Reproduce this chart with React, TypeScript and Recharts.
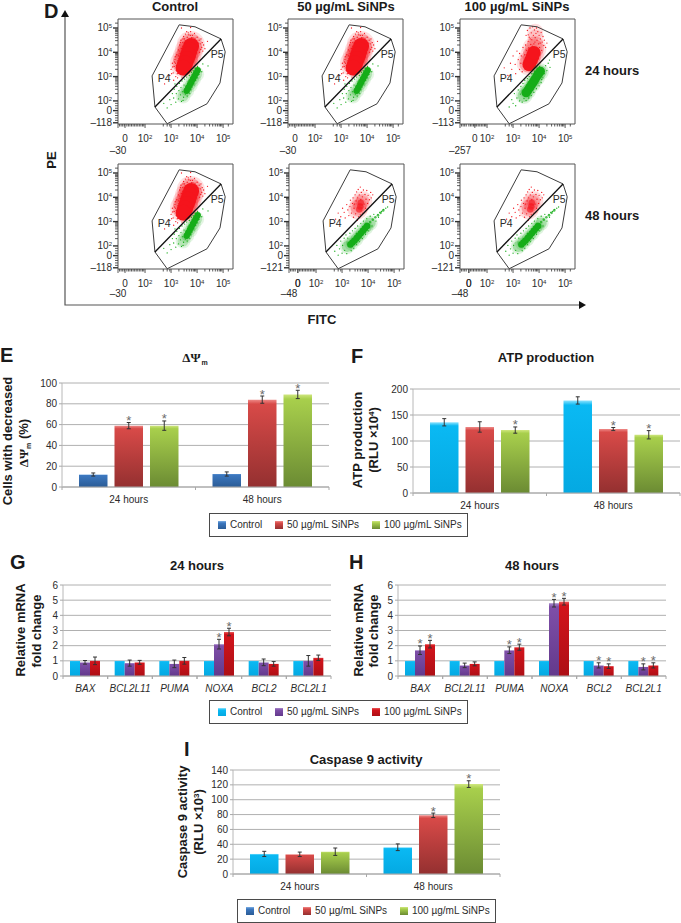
import { Fragment } from 'react'
import {
  Bar,
  BarChart,
  CartesianGrid,
  ErrorBar,
  LabelList,
  ReferenceArea,
  ReferenceDot,
  Scatter,
  ScatterChart,
  XAxis,
  YAxis,
} from 'recharts'

const SANS = '"Liberation Sans", Arial, sans-serif'
const SERIF = '"Liberation Serif", serif'
const INK = '#2b2b2b'

// bar panels
const hours = ['24 hours', '48 hours']
const genes = ['BAX', 'BCL2L11', 'PUMA', 'NOXA', 'BCL2', 'BCL2L1']

const psiControl = [12, 12.5]
const psiControlErr = [1.5, 2]
const psi50 = [59, 84]
const psi50Err = [3, 3.5]
const psi100 = [59, 89]
const psi100Err = [4.5, 4]

const atpControl = [136, 178]
const atpControlErr = [7, 7]
const atp50 = [127, 123]
const atp50Err = [10, 3]
const atp100 = [121, 112]
const atp100Err = [6, 8]

const geneControl = [1, 1, 1, 1, 1, 1]
const geneControlErr = [0, 0, 0, 0, 0, 0]
const gene24h50 = [0.9, 0.85, 0.8, 2.1, 0.9, 1.0]
const gene24h50Err = [0.12, 0.2, 0.25, 0.32, 0.22, 0.35]
const gene24h100 = [1.0, 0.9, 1.0, 2.9, 0.8, 1.2]
const gene24h100Err = [0.25, 0.13, 0.22, 0.25, 0.15, 0.18]
const gene48h50 = [1.7, 0.7, 1.7, 4.8, 0.7, 0.6]
const gene48h50Err = [0.28, 0.15, 0.22, 0.25, 0.17, 0.2]
const gene48h100 = [2.1, 0.8, 1.9, 4.9, 0.65, 0.7]
const gene48h100Err = [0.25, 0.13, 0.2, 0.22, 0.15, 0.17]

const casControl = [27, 36]
const casControlErr = [3.5, 4.5]
const cas50 = [26.5, 79]
const cas50Err = [3, 3]
const cas100 = [30, 121]
const cas100Err = [5, 4.5]

// flow gates, in decades of the biexponential axes
const gateOutline = [
  [2.38, 1.75], [2.27, 3.03], [3.31, 5.13], [3.92, 5.05], [4.92, 4.55], [5.08, 4.02],
  [4.88, 2.74], [4.38, 1.88], [2.85, 1.06], [2.38, 1.75],
]
const gateSplit = [[2.38, 1.75], [4.92, 4.55]]

const decadeTicks = [2, 3, 4, 5]
const xMinorTicks = [
  1.02, 1.08, 1.14, 1.2, 1.3, 1.36, 1.42, 1.48, 1.54, 1.6, 1.66, 1.72, 1.78, 1.84, 1.9, 1.95,
  2.7, 2.85, 2.95, 3.3, 3.5, 3.6, 3.7, 3.78, 3.85, 3.9, 3.95, 4.3, 4.48, 4.6, 4.7, 4.78, 4.85, 4.9, 4.95, 5.2,
]
const yMinorTicks = [
  1.2, 1.3, 1.4, 1.5, 1.7, 1.8, 1.9, 2.3, 2.48, 2.6, 2.7, 2.78, 2.85, 2.9, 2.95,
  3.3, 3.48, 3.6, 3.7, 3.78, 3.85, 3.9, 3.95, 4.3, 4.48, 4.6, 4.7, 4.78, 4.85, 4.9, 4.95, 5.2,
]

// red population, untreated and 50 ug/mL at 24 hours
const redDenseCore = [[3.77, 4.26], [3.71, 4.08], [3.66, 3.9], [3.6, 3.72], [3.54, 3.54], [3.48, 3.36]]
const redDenseHalo = [[3.76, 4.3], [3.68, 4.05], [3.6, 3.8], [3.5, 3.55]]
const redDenseSpecks = [
  [2.95, 3.05], [3.0, 3.3], [3.05, 3.55], [3.08, 3.15], [3.1, 2.85], [3.12, 3.42], [3.15, 3.7], [3.18, 3.0],
  [3.2, 3.25], [3.22, 3.9], [3.25, 3.55], [3.25, 2.95], [3.28, 4.1], [3.3, 3.75], [3.33, 4.3], [3.35, 3.95],
  [3.38, 4.5], [3.4, 4.15], [3.42, 2.98], [3.45, 4.4], [3.48, 4.65], [3.5, 3.15], [3.52, 4.55], [3.55, 4.75],
  [3.58, 4.3], [3.6, 4.85], [3.62, 4.62], [3.65, 3.35], [3.68, 4.72], [3.7, 4.55], [3.72, 3.5], [3.75, 4.85],
  [3.78, 4.6], [3.8, 3.72], [3.82, 4.7], [3.85, 4.45], [3.88, 3.85], [3.9, 4.78], [3.92, 4.58], [3.95, 3.95],
  [3.98, 4.4], [4.0, 4.62], [4.02, 4.1], [4.05, 4.25], [4.08, 4.5], [4.1, 4.0], [4.12, 4.35], [4.15, 4.55],
  [4.18, 4.2], [4.2, 4.4], [4.25, 4.3], [4.3, 4.15], [3.4, 5.0], [3.75, 5.02], [2.75, 2.7], [4.4, 4.45],
  [3.02, 3.12], [3.06, 3.4], [3.14, 3.6], [3.16, 3.82], [3.24, 3.12], [3.26, 3.65], [3.34, 4.05], [3.36, 4.4],
  [3.44, 4.25], [3.46, 4.55], [3.54, 4.38], [3.6, 4.48], [3.66, 4.8], [3.74, 4.7], [3.84, 4.6], [3.94, 4.5],
  [4.04, 4.38], [4.14, 4.12], [4.22, 4.05], [3.2, 3.45], [3.18, 3.55], [3.28, 3.85],
]
const greenSparseCore = [
  [4.02, 3.26], [3.96, 3.14], [3.9, 3.02], [3.84, 2.9], [3.78, 2.78], [3.72, 2.66], [3.66, 2.54], [3.6, 2.42],
]
const greenSparseHalo = [[3.98, 3.1], [3.86, 2.88], [3.74, 2.66], [3.6, 2.42], [3.46, 2.2]]
const greenSparseSpecks = [
  [2.72, 1.9], [2.85, 1.71], [2.95, 2.05], [3.0, 1.85], [3.05, 2.3], [3.1, 2.12], [3.12, 2.48], [3.18, 1.95],
  [3.2, 2.3], [3.22, 2.6], [3.28, 2.08], [3.3, 2.42], [3.32, 2.72], [3.36, 2.25], [3.38, 2.55], [3.4, 1.98],
  [3.42, 2.82], [3.45, 2.38], [3.48, 2.15], [3.5, 2.65], [3.52, 2.9], [3.55, 2.28], [3.58, 2.5], [3.6, 2.98],
  [3.62, 2.2], [3.65, 2.78], [3.68, 2.38], [3.7, 3.05], [3.72, 2.3], [3.75, 2.92], [3.78, 3.18], [3.8, 2.55],
  [3.85, 3.25], [3.88, 2.65], [3.92, 3.35], [3.95, 2.85], [4.0, 2.95], [4.02, 3.42], [4.08, 3.1], [4.12, 3.28],
  [4.18, 3.2], [4.22, 3.52], [4.42, 3.44], [3.15, 2.7], [3.46, 2.02], [3.76, 2.45],
]

// 100 ug/mL at 24 hours
const redShiftedCore = [[3.62, 3.5], [3.68, 3.65], [3.75, 3.82], [3.8, 3.98]]
const redShiftedHalo = [[3.6, 3.55], [3.72, 3.85], [3.82, 4.15]]
const redShiftedPlume = [[3.84, 4.35], [3.86, 4.6], [3.85, 4.85]]
const redShiftedSpecks = [
  [2.66, 3.36], [2.8, 3.05], [2.9, 3.55], [2.95, 3.3], [3.0, 3.85], [3.08, 3.5], [3.1, 3.12], [3.15, 4.05],
  [3.2, 3.7], [3.25, 3.3], [3.3, 3.55], [3.32, 3.85], [3.38, 4.2], [3.4, 3.42], [3.42, 3.65], [3.45, 3.9],
  [3.48, 4.3], [3.5, 4.7], [3.52, 4.08], [3.55, 4.9], [3.58, 4.45], [3.6, 4.18], [3.62, 4.62], [3.65, 5.0],
  [3.68, 4.32], [3.7, 4.8], [3.72, 4.52], [3.75, 5.05], [3.78, 4.7], [3.8, 4.35], [3.82, 4.92], [3.85, 4.6],
  [3.88, 4.78], [3.9, 5.0], [3.92, 4.5], [3.95, 4.85], [3.98, 4.35], [4.0, 4.7], [4.02, 4.2], [4.05, 4.55],
  [4.08, 4.82], [4.1, 4.08], [4.12, 4.42], [4.15, 4.65], [4.18, 4.28], [4.2, 4.5], [4.25, 4.2], [4.3, 4.38],
  [3.25, 3.95], [3.35, 3.2], [3.58, 4.72], [3.66, 4.55], [3.74, 4.25], [3.84, 4.42], [3.94, 4.15], [4.04, 4.38],
]
const greenShiftedCore = [
  [4.05, 3.22], [3.98, 3.12], [3.92, 3.02], [3.85, 2.9], [3.78, 2.78], [3.71, 2.67], [3.64, 2.55], [3.57, 2.44], [3.5, 2.34],
]
const greenShiftedHalo = [[4.05, 3.2], [3.9, 2.95], [3.74, 2.7], [3.56, 2.42], [3.42, 2.22]]
const greenShiftedSpecks = [
  [2.85, 1.75], [2.95, 2.05], [3.0, 1.9], [3.05, 2.3], [3.1, 1.8], [3.15, 2.12], [3.2, 2.45], [3.25, 2.0],
  [3.28, 2.28], [3.3, 2.6], [3.35, 1.95], [3.38, 2.72], [3.42, 2.1], [3.45, 2.85], [3.5, 2.02], [3.55, 2.92],
  [3.6, 2.12], [3.62, 3.0], [3.7, 2.22], [3.72, 3.12], [3.8, 2.35], [3.82, 3.22], [3.9, 2.5], [3.92, 3.35],
  [4.0, 2.62], [4.02, 3.42], [4.08, 2.75], [4.15, 2.95], [4.2, 3.12], [4.25, 3.45], [4.3, 3.25], [4.35, 3.55],
  [4.42, 3.38], [4.4, 3.68], [3.4, 2.38], [3.58, 2.22], [3.66, 2.3], [4.1, 2.88],
]

// 50 and 100 ug/mL at 48 hours
const redLateCore = [[3.72, 3.78], [3.7, 3.62], [3.66, 3.5]]
const redLateHalo = [[3.6, 3.5], [3.68, 3.68], [3.78, 3.85]]
const redLateSpecks = [
  [2.75, 3.1], [2.85, 3.35], [2.95, 3.2], [3.02, 3.55], [3.08, 3.38], [3.12, 3.15], [3.18, 3.7], [3.22, 3.48],
  [3.26, 3.25], [3.3, 3.62], [3.32, 3.88], [3.36, 3.35], [3.4, 3.75], [3.42, 3.98], [3.44, 3.18], [3.46, 3.55],
  [3.5, 4.1], [3.52, 3.32], [3.54, 3.85], [3.56, 4.22], [3.6, 3.98], [3.62, 4.32], [3.64, 3.2], [3.66, 4.1],
  [3.7, 4.42], [3.72, 3.9], [3.74, 4.2], [3.78, 4.02], [3.8, 3.35], [3.82, 4.3], [3.85, 3.72], [3.88, 4.12],
  [3.9, 3.55], [3.92, 3.92], [3.95, 4.28], [3.98, 3.75], [4.0, 4.08], [4.05, 3.9], [4.1, 4.2], [4.12, 3.98],
  [4.18, 4.1], [3.48, 3.72], [3.58, 3.05], [3.7, 3.28],
]
const greenLateCore = [
  [3.32, 2.06], [3.4, 2.14], [3.48, 2.22], [3.56, 2.32], [3.64, 2.42], [3.72, 2.52], [3.8, 2.62], [3.88, 2.72], [3.96, 2.82],
]
const greenLateHalo = [[3.2, 1.98], [3.36, 2.12], [3.54, 2.3], [3.72, 2.52], [3.92, 2.76], [4.08, 2.94]]
const greenLateTail = [[4.08, 2.98], [4.18, 3.08], [4.28, 3.18], [4.38, 3.26], [4.48, 3.36], [4.58, 3.46]]
const greenLateSpecks = [
  [2.72, 1.78], [2.8, 2.02], [2.85, 1.62], [2.9, 1.88], [2.95, 2.2], [3.0, 1.7], [3.02, 2.02], [3.08, 2.32],
  [3.1, 1.82], [3.15, 2.45], [3.18, 1.68], [3.22, 2.32], [3.3, 2.52], [3.35, 1.8], [3.4, 2.62], [3.45, 1.9],
  [3.5, 2.72], [3.56, 2.05], [3.6, 2.82], [3.66, 2.18], [3.72, 2.92], [3.78, 2.3], [3.82, 3.02], [3.9, 2.48],
  [3.95, 3.12], [4.02, 2.62], [4.08, 3.22], [4.15, 2.82], [4.22, 3.3], [4.3, 3.02], [4.38, 3.3], [4.45, 3.38],
  [4.52, 3.42], [4.6, 3.5], [4.68, 3.55], [4.75, 3.6], [4.4, 3.18], [3.25, 2.12], [3.38, 2.18], [3.55, 2.52],
]

const GATE_COLOR = '#3d3d3d'
const RED = '#f5141c'
const GREEN = '#15ad18'
const redAlpha = (a: number) => `rgba(245,20,28,${a})`
const greenAlpha = (a: number) => `rgba(21,173,24,${a})`

const toPoints = (list: number[][]) => list.map(([x, y]) => ({ x, y }))

const dot = (r: number, fill: string) => (p: any) => <circle cx={p.cx} cy={p.cy} r={r} fill={fill} />
const noDot = () => <g />

function Pow({ exp, size = 10 }: { exp: number; size?: number }) {
  return (
    <>
      10
      <tspan dy={-3.5} fontSize={size * 0.6}>{exp}</tspan>
    </>
  )
}

const X_MIN = 0.96
const X_MAX = 5.38
const Y_MIN = 1.05
const Y_MAX = 5.37

function FlowPanel({
  left, top, xZero, xLow, lowDy, yLow, clouds,
}: {
  left: number
  top: number
  xZero: number
  xLow: string
  lowDy: number
  yLow: string
  clouds: { pts: number[][]; r: number; fill: string }[]
}) {
  const xTicks = [X_MIN, ...xMinorTicks, xZero, ...decadeTicks]
  const yTicks = [1.1, ...yMinorTicks, 1.6, ...decadeTicks]
  return (
    <div style={{ position: 'absolute', left: left - 40, top: top - 4 }}>
      <ScatterChart
        width={162}
        height={144}
        margin={{ top: 4, right: 7, left: 0, bottom: 0 }}
      >
        <XAxis
          type="number"
          dataKey="x"
          domain={[X_MIN, X_MAX]}
          ticks={xTicks}
          interval={0}
          height={35}
          tickSize={0}
          tickMargin={0}
          axisLine={false}
          allowDataOverflow
          tick={(p: any) => {
            const v = p.payload.value
            const major = v === xZero || decadeTicks.includes(v) || v === X_MIN
            return (
              <g>
                <line x1={p.x} x2={p.x} y1={p.y} y2={p.y + (major ? 4 : 2.5)} stroke="#333" strokeWidth={0.8} />
                {v === xZero && (
                  <text x={p.x} y={p.y + 18} fontSize={10} fontFamily={SANS} fill={INK} textAnchor="middle">0</text>
                )}
                {decadeTicks.includes(v) && (
                  <text x={p.x} y={p.y + 18} fontSize={10} fontFamily={SANS} fill={INK} textAnchor="middle">
                    <Pow exp={v} />
                  </text>
                )}
                {v === X_MIN && (
                  <text x={p.x} y={p.y + lowDy} fontSize={10} fontFamily={SANS} fill={INK} textAnchor="middle">{xLow}</text>
                )}
              </g>
            )
          }}
        />
        <YAxis
          type="number"
          dataKey="y"
          domain={[Y_MIN, Y_MAX]}
          ticks={yTicks}
          interval={0}
          width={40}
          tickSize={0}
          tickMargin={0}
          axisLine={false}
          allowDataOverflow
          tick={(p: any) => {
            const v = p.payload.value
            const major = v === 1.1 || v === 1.6 || decadeTicks.includes(v)
            return (
              <g>
                <line x1={p.x} x2={p.x - (major ? 5 : 3)} y1={p.y} y2={p.y} stroke="#333" strokeWidth={major ? 1.4 : 0.8} />
                {v === 1.1 && (
                  <text x={p.x - 6} y={p.y + 3.5} fontSize={10} fontFamily={SANS} fill={INK} textAnchor="end">{yLow}</text>
                )}
                {v === 1.6 && (
                  <text x={p.x - 6} y={p.y + 3.5} fontSize={10} fontFamily={SANS} fill={INK} textAnchor="end">0</text>
                )}
                {decadeTicks.includes(v) && (
                  <text x={p.x - 6} y={p.y + 3.5} fontSize={10} fontFamily={SANS} fill={INK} textAnchor="end">
                    <Pow exp={v} />
                  </text>
                )}
              </g>
            )
          }}
        />
        <ReferenceArea x1={X_MIN} x2={X_MAX} y1={Y_MIN} y2={Y_MAX} fill="none" stroke="#555" strokeWidth={1} />
        {clouds.map((c, i) => (
          <Scatter key={i} data={toPoints(c.pts)} shape={dot(c.r, c.fill)} isAnimationActive={false} />
        ))}
        <Scatter
          data={toPoints(gateOutline)}
          line={{ stroke: GATE_COLOR, strokeWidth: 1 }}
          lineType="joint"
          shape={noDot}
          isAnimationActive={false}
        />
        <Scatter
          data={toPoints(gateSplit)}
          line={{ stroke: '#111', strokeWidth: 1.3 }}
          lineType="joint"
          shape={noDot}
          isAnimationActive={false}
        />
        <ReferenceDot
          x={2.73}
          y={2.95}
          r={0}
          fill="none"
          stroke="none"
          label={{ value: 'P4', position: 'center', fontSize: 10.5, fontFamily: SANS, fill: INK }}
        />
        <ReferenceDot
          x={4.77}
          y={3.93}
          r={0}
          fill="none"
          stroke="none"
          label={{ value: 'P5', position: 'center', fontSize: 10.5, fontFamily: SANS, fill: INK }}
        />
      </ScatterChart>
    </div>
  )
}

const controlClouds = [
  { pts: redDenseHalo, r: 14, fill: redAlpha(0.14) },
  { pts: redDenseHalo, r: 11.5, fill: redAlpha(0.3) },
  { pts: redDenseSpecks, r: 0.65, fill: RED },
  { pts: redDenseCore, r: 8, fill: RED },
  { pts: greenSparseHalo, r: 7.5, fill: greenAlpha(0.12) },
  { pts: greenSparseHalo, r: 5.5, fill: greenAlpha(0.22) },
  { pts: greenSparseSpecks, r: 0.65, fill: GREEN },
  { pts: greenSparseCore, r: 3.2, fill: GREEN },
]
const shiftedClouds = [
  { pts: redShiftedHalo, r: 12, fill: redAlpha(0.12) },
  { pts: redShiftedPlume, r: 8, fill: redAlpha(0.14) },
  { pts: redShiftedHalo, r: 9.5, fill: redAlpha(0.3) },
  { pts: redShiftedSpecks, r: 0.65, fill: RED },
  { pts: redShiftedCore, r: 6.8, fill: RED },
  { pts: greenShiftedHalo, r: 8.5, fill: greenAlpha(0.14) },
  { pts: greenShiftedHalo, r: 6.5, fill: greenAlpha(0.3) },
  { pts: greenShiftedSpecks, r: 0.65, fill: GREEN },
  { pts: greenShiftedCore, r: 4.6, fill: GREEN },
]
const lateClouds = [
  { pts: redLateHalo, r: 10, fill: redAlpha(0.14) },
  { pts: redLateHalo, r: 7, fill: redAlpha(0.22) },
  { pts: redLateSpecks, r: 0.65, fill: RED },
  { pts: redLateCore, r: 3.2, fill: redAlpha(0.6) },
  { pts: greenLateHalo, r: 7.5, fill: greenAlpha(0.14) },
  { pts: greenLateHalo, r: 5.5, fill: greenAlpha(0.28) },
  { pts: greenLateSpecks, r: 0.65, fill: GREEN },
  { pts: greenLateTail, r: 1.3, fill: greenAlpha(0.75) },
  { pts: greenLateCore, r: 3.3, fill: GREEN },
]

type Ramp = [string, string, string]
const BLUE_RAMP: Ramp = ['#7fb0e4', '#3c78c0', '#2b5c96']
const RED_RAMP: Ramp = ['#ee8a88', '#d84a48', '#943030']
const GREEN_RAMP: Ramp = ['#cfe67e', '#a8cf4c', '#6b8b33']
const CYAN_RAMP: Ramp = ['#8fe4ff', '#0ab9f3', '#04a9e2']
const PURPLE_RAMP: Ramp = ['#a98acb', '#7e4fa8', '#63398c']
const DARK_RED_RAMP: Ramp = ['#ec5a5a', '#d2141c', '#ad0f15']

type Series = { values: number[]; errs: number[]; stars: number[]; ramp: Ramp }

function GroupChart({
  id, left, right, top, bottom, categories, series, max, ticks, barSize, barGap, italic,
}: {
  id: string
  left: number
  right: number
  top: number
  bottom: number
  categories: string[]
  series: Series[]
  max: number
  ticks: number[]
  barSize: number
  barGap: number
  italic?: boolean
}) {
  const rows = categories.map((name, i) => {
    const row: Record<string, number | string> = { name }
    series.forEach((s, k) => {
      row[`v${k}`] = s.values[i]
      row[`e${k}`] = s.errs[i]
    })
    return row
  })
  const plotHeight = bottom - top
  const band = (right - left) / categories.length
  return (
    <div style={{ position: 'absolute', left: left - 32, top: top - 12 }}>
      <BarChart
        width={right - left + 35}
        height={plotHeight + 38}
        data={rows}
        barSize={barSize}
        barGap={barGap}
        margin={{ top: 12, right: 3, left: 0, bottom: 0 }}
      >
        <defs>
          {series.map((s, k) => (
            <linearGradient key={k} id={`${id}-fill-${k}`} x1="0" y1="0" x2="0" y2="1">
              <stop offset="0%" stopColor={s.ramp[0]} />
              <stop offset="5%" stopColor={s.ramp[1]} />
              <stop offset="100%" stopColor={s.ramp[2]} />
            </linearGradient>
          ))}
        </defs>
        <CartesianGrid vertical={false} stroke="#b0b0b0" strokeWidth={1} />
        <XAxis
          dataKey="name"
          height={26}
          interval={0}
          tickSize={0}
          tickMargin={0}
          axisLine={{ stroke: '#a8a8a8' }}
          tick={(p: any) => (
            <g>
              <line x1={p.x - band / 2} x2={p.x - band / 2} y1={p.y} y2={p.y + 3} stroke="#a8a8a8" />
              <line x1={p.x + band / 2} x2={p.x + band / 2} y1={p.y} y2={p.y + 3} stroke="#a8a8a8" />
              <text
                x={p.x}
                y={p.y + 16}
                fontSize={10}
                fontFamily={SANS}
                fontStyle={italic ? 'italic' : 'normal'}
                fill={INK}
                textAnchor="middle"
              >
                {p.payload.value}
              </text>
            </g>
          )}
        />
        <YAxis
          type="number"
          domain={[0, max]}
          ticks={ticks}
          interval={0}
          width={32}
          tickSize={3}
          tickMargin={2}
          axisLine={{ stroke: '#b8b8b8' }}
          tickLine={{ stroke: '#a8a8a8' }}
          tick={{ fontSize: 10, fontFamily: SANS, fill: INK }}
        />
        {series.map((s, k) => (
          <Bar key={k} dataKey={`v${k}`} fill={`url(#${id}-fill-${k})`} isAnimationActive={false}>
            {s.errs.some((e) => e > 0) && (
              <ErrorBar dataKey={`e${k}`} width={2} stroke="#333" strokeWidth={1} isAnimationActive={false} />
            )}
            <LabelList
              dataKey={`v${k}`}
              content={(p: any) => {
                if (!s.stars.includes(p.index)) return null
                const cap = p.y - (s.errs[p.index] * plotHeight) / max
                return (
                  <text
                    x={p.x + p.width / 2}
                    y={cap + 2.5}
                    fontSize={13}
                    fontFamily={SANS}
                    fill="#6b6b6b"
                    textAnchor="middle"
                  >
                    *
                  </text>
                )
              }}
            />
          </Bar>
        ))}
      </BarChart>
    </div>
  )
}

function swatchCss(r: Ramp) {
  return `linear-gradient(${r[0]} 0%, ${r[1]} 25%, ${r[2]} 100%)`
}

function LegendBox({ left, top, labels, ramps }: { left: number; top: number; labels: string[]; ramps: Ramp[] }) {
  const starts = [8, 65, 162]
  return (
    <div
      style={{
        position: 'absolute', left, top, width: 257, height: 22, border: '1px solid #4a4a4a',
        fontFamily: SANS, fontSize: 10, color: INK, background: '#fff',
      }}
    >
      {labels.map((label, i) => (
        <Fragment key={label}>
          <div style={{ position: 'absolute', left: starts[i], top: 7, width: 8, height: 8, background: swatchCss(ramps[i]) }} />
          <div style={{ position: 'absolute', left: starts[i] + 12, top: 5, whiteSpace: 'nowrap' }}>{label}</div>
        </Fragment>
      ))}
    </div>
  )
}

const doseLabels = ['Control', '50 µg/mL SiNPs', '100 µg/mL SiNPs']

function AxisTitle({ x, y, children }: { x: number; y: number; children: any }) {
  return (
    <text
      transform={`translate(${x} ${y}) rotate(-90)`}
      textAnchor="middle"
      fontSize={13}
      fontWeight={700}
      fontFamily={SANS}
      fill="#1a1a1a"
    >
      {children}
    </text>
  )
}

function Bold({ x, y, size = 13, anchor = 'middle', children }: { x: number; y: number; size?: number; anchor?: string; children: any }) {
  return (
    <text x={x} y={y} fontSize={size} fontWeight={700} fontFamily={SANS} fill="#1a1a1a" textAnchor={anchor as any}>
      {children}
    </text>
  )
}

export default function App() {
  return (
    <div style={{ position: 'absolute', left: 0, top: 0, width: 681, height: 923, background: '#fff', overflow: 'hidden' }}>
      <FlowPanel left={118} top={19} xZero={1.23} xLow="–30" lowDy={30} yLow="–118" clouds={controlClouds} />
      <FlowPanel left={288} top={19} xZero={1.23} xLow="–30" lowDy={30} yLow="–118" clouds={controlClouds} />
      <FlowPanel left={460} top={19} xZero={1.53} xLow="–257" lowDy={30} yLow="–113" clouds={shiftedClouds} />
      <FlowPanel left={118} top={164} xZero={1.23} xLow="–30" lowDy={28} yLow="–118" clouds={controlClouds} />
      <FlowPanel left={289} top={164} xZero={1.3} xLow="–48" lowDy={28} yLow="–121" clouds={lateClouds} />
      <FlowPanel left={460} top={164} xZero={1.3} xLow="–48" lowDy={28} yLow="–121" clouds={lateClouds} />

      <GroupChart
        id="psi"
        left={62}
        right={329}
        top={383}
        bottom={487}
        categories={hours}
        max={100}
        ticks={[0, 20, 40, 60, 80, 100]}
        barSize={28.5}
        barGap={7}
        series={[
          { values: psiControl, errs: psiControlErr, stars: [], ramp: BLUE_RAMP },
          { values: psi50, errs: psi50Err, stars: [0, 1], ramp: RED_RAMP },
          { values: psi100, errs: psi100Err, stars: [0, 1], ramp: GREEN_RAMP },
        ]}
      />
      <GroupChart
        id="atp"
        left={413}
        right={680}
        top={389}
        bottom={493}
        categories={hours}
        max={200}
        ticks={[0, 50, 100, 150, 200]}
        barSize={28.5}
        barGap={7}
        series={[
          { values: atpControl, errs: atpControlErr, stars: [], ramp: CYAN_RAMP },
          { values: atp50, errs: atp50Err, stars: [1], ramp: RED_RAMP },
          { values: atp100, errs: atp100Err, stars: [0, 1], ramp: GREEN_RAMP },
        ]}
      />
      <GroupChart
        id="g24"
        left={63}
        right={331}
        top={585}
        bottom={676}
        categories={genes}
        max={6}
        ticks={[0, 1, 2, 3, 4, 5, 6]}
        barSize={10}
        barGap={0}
        italic
        series={[
          { values: geneControl, errs: geneControlErr, stars: [], ramp: CYAN_RAMP },
          { values: gene24h50, errs: gene24h50Err, stars: [3], ramp: PURPLE_RAMP },
          { values: gene24h100, errs: gene24h100Err, stars: [3], ramp: DARK_RED_RAMP },
        ]}
      />
      <GroupChart
        id="g48"
        left={398}
        right={666}
        top={585}
        bottom={676}
        categories={genes}
        max={6}
        ticks={[0, 1, 2, 3, 4, 5, 6]}
        barSize={10}
        barGap={0}
        italic
        series={[
          { values: geneControl, errs: geneControlErr, stars: [], ramp: CYAN_RAMP },
          { values: gene48h50, errs: gene48h50Err, stars: [0, 2, 3, 4, 5], ramp: PURPLE_RAMP },
          { values: gene48h100, errs: gene48h100Err, stars: [0, 2, 3, 4, 5], ramp: DARK_RED_RAMP },
        ]}
      />
      <GroupChart
        id="cas"
        left={233}
        right={500}
        top={770}
        bottom={874}
        categories={hours}
        max={140}
        ticks={[0, 20, 40, 60, 80, 100, 120, 140]}
        barSize={28.5}
        barGap={7}
        series={[
          { values: casControl, errs: casControlErr, stars: [], ramp: CYAN_RAMP },
          { values: cas50, errs: cas50Err, stars: [1], ramp: RED_RAMP },
          { values: cas100, errs: cas100Err, stars: [1], ramp: GREEN_RAMP },
        ]}
      />

      <LegendBox left={209} top={513} labels={doseLabels} ramps={[BLUE_RAMP, RED_RAMP, GREEN_RAMP]} />
      <LegendBox left={209} top={700} labels={doseLabels} ramps={[CYAN_RAMP, PURPLE_RAMP, DARK_RED_RAMP]} />
      <LegendBox left={237} top={899} labels={doseLabels} ramps={[BLUE_RAMP, RED_RAMP, GREEN_RAMP]} />

      <svg width={681} height={923} style={{ position: 'absolute', left: 0, top: 0, pointerEvents: 'none' }}>
        <polyline points="65,14 65,305 582,305" fill="none" stroke="#555" strokeWidth={1.2} />
        <polygon points="65,10 61,17 69,17" fill="#111" />
        <polygon points="586,305 579,301 579,309" fill="#111" />

        <Bold x={44} y={18} size={20} anchor="start">D</Bold>
        <Bold x={175} y={11}>Control</Bold>
        <Bold x={346} y={11}>50 µg/mL SiNPs</Bold>
        <Bold x={517} y={11}>100 µg/mL SiNPs</Bold>
        <Bold x={585} y={75} anchor="start">24 hours</Bold>
        <Bold x={585} y={220} anchor="start">48 hours</Bold>
        <AxisTitle x={56} y={160}>PE</AxisTitle>
        <Bold x={322} y={324}>FITC</Bold>

        <Bold x={0} y={362} size={20} anchor="start">E</Bold>
        <text x={195} y={362} fontSize={13} fontWeight={700} fontFamily={SERIF} fill="#1a1a1a" textAnchor="middle">
          ΔΨ<tspan dy={3} dx={1} fontSize={7} fontFamily={SANS}>m</tspan>
        </text>
        <AxisTitle x={12} y={441}>Cells with decreased</AxisTitle>
        <AxisTitle x={28} y={443}>
          <tspan fontFamily={SERIF}>ΔΨ</tspan>
          <tspan dy={3} fontSize={7}>m</tspan>
          <tspan dy={-3}> (%)</tspan>
        </AxisTitle>

        <Bold x={351} y={363} size={20} anchor="start">F</Bold>
        <Bold x={546} y={362}>ATP production</Bold>
        <AxisTitle x={362} y={440}>ATP production</AxisTitle>
        <AxisTitle x={378} y={440}>
          (RLU ×10<tspan dy={-4} fontSize={8}>4</tspan><tspan dy={4}>)</tspan>
        </AxisTitle>

        <Bold x={10} y={569} size={20} anchor="start">G</Bold>
        <Bold x={197} y={570}>24 hours</Bold>
        <AxisTitle x={25} y={630}>Relative mRNA</AxisTitle>
        <AxisTitle x={41} y={631}>fold change</AxisTitle>

        <Bold x={349} y={569} size={20} anchor="start">H</Bold>
        <Bold x={532} y={570}>48 hours</Bold>
        <AxisTitle x={363} y={630}>Relative mRNA</AxisTitle>
        <AxisTitle x={378} y={631}>fold change</AxisTitle>

        <Bold x={184} y={756} size={20} anchor="start">I</Bold>
        <Bold x={366} y={764}>Caspase 9 activity</Bold>
        <AxisTitle x={187} y={822}>Caspase 9 activity</AxisTitle>
        <AxisTitle x={203} y={822}>
          (RLU ×10<tspan dy={-4} fontSize={8}>3</tspan><tspan dy={4}>)</tspan>
        </AxisTitle>
      </svg>
    </div>
  )
}
